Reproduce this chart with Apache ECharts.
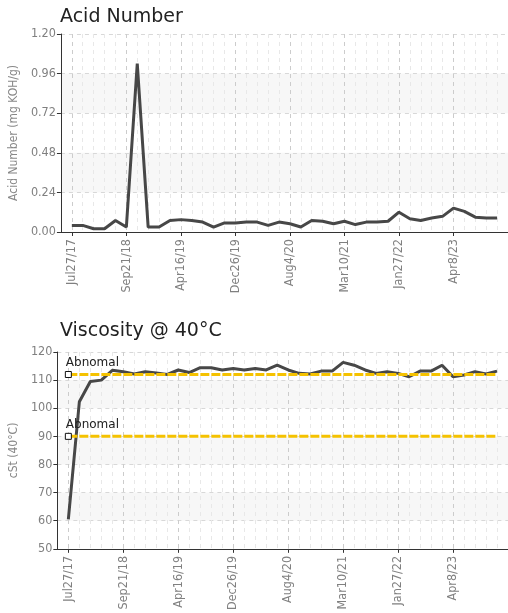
<!DOCTYPE html>
<html>
<head>
<meta charset="utf-8">
<script src="https://cdn.jsdelivr.net/npm/echarts@6/dist/echarts.min.js"></script>
<style>
html,body{margin:0;padding:0;background:#fff;}
#c{width:508px;height:613px;}
</style>
</head>
<body>
<div id="c"></div>
<script>
// Tick labels shown every 5 samples
var tickLabels = ['Jul27/17','Sep21/18','Apr16/19','Dec26/19','Aug4/20','Mar10/21','Jan27/22','Apr8/23'];
// Acid Number (mg KOH/g), 40 samples
var acidNumber = [0.04,0.04,0.02,0.02,0.07,0.03,1.02,0.03,0.03,0.07,
                  0.075,0.07,0.06,0.03,0.055,0.055,0.06,0.06,0.04,0.06,
                  0.05,0.03,0.07,0.065,0.05,0.065,0.045,0.06,0.06,0.065,
                  0.12,0.08,0.07,0.085,0.095,0.145,0.125,0.09,0.085,0.085];
// Viscosity @ 40C (cSt), 40 samples
var viscosity = [60.5,102.3,109.5,110.0,113.5,113.0,112.2,113.0,112.5,112.0,
                 113.6,112.7,114.4,114.4,113.6,114.1,113.6,114.1,113.6,115.3,
                 113.6,112.4,112.2,113.2,113.2,116.3,115.3,113.6,112.4,113.0,
                 112.4,111.2,113.2,113.2,115.3,111.2,111.8,113.0,112.2,113.2];
// Abnormal limits
var viscLimits = [112, 90];
var limitLabel = 'Abnomal';

var nSamples = acidNumber.length;
// category slots: one empty slot before and after the samples
var categories = [];
for (var k = 0; k < nSamples + 2; k++) categories.push('c' + k);

var labelFont = '"Liberation Sans Narrow","DejaVu Sans Condensed","Roboto",sans-serif';
var titleFont = '"DejaVu Sans",Verdana,sans-serif';
function isMajor(idx){ return idx >= 1 && idx <= nSamples && (idx - 1) % 5 === 0; }

function makeX(gi){
  return {
    type:'category', gridIndex:gi, data:categories, boundaryGap:false,
    axisLine:{show:true,lineStyle:{color:'#333',width:1}},
    axisTick:{show:true,length:4,interval:function(i){return isMajor(i);},lineStyle:{color:'#333'}},
    axisLabel:{rotate:90,interval:0,color:'#808080',fontFamily:labelFont,fontSize:12.5,margin:7,
      formatter:function(v,i){ return isMajor(i) ? tickLabels[(i-1)/5] : ''; }},
    splitLine:{show:true,interval:0,lineStyle:{type:[4,4],width:1,
      color:['#e8e8e8','#cccccc','#e8e8e8','#e8e8e8','#e8e8e8']}}
  };
}
function makeY(gi,min,max,interval,name,gap,dec){
  return {
    type:'value', gridIndex:gi, min:min, max:max, interval:interval,
    name:name, nameLocation:'middle', nameGap:gap,
    nameTextStyle:{color:'#888',fontFamily:labelFont,fontSize:12},
    axisLine:{show:true,lineStyle:{color:'#333',width:1}},
    axisTick:{show:true,length:4,lineStyle:{color:'#333'}},
    axisLabel:{color:'#808080',fontFamily:labelFont,fontSize:12.5,margin:5,
      formatter:function(v){ return dec ? v.toFixed(dec) : String(v); }},
    splitLine:{show:true,lineStyle:{type:[4,4],color:'#d8d8d8'}},
    splitArea:{show:true,areaStyle:{color:['rgba(255,255,255,0)','#f7f7f7']}}
  };
}
function pairs(arr){ return arr.map(function(v,i){ return [i+1, v]; }); }
function limitSeries(val){
  var d = [];
  for (var i = 0; i < nSamples; i++) {
    if (i === 0) {
      d.push({value:[1,val], symbol:'rect', symbolSize:6,
        itemStyle:{color:'#fff',borderColor:'#111',borderWidth:1},
        label:{show:true, formatter:limitLabel, position:[1,-14], color:'#222',
               fontFamily:'"DejaVu Sans",sans-serif', fontSize:12}});
    } else d.push([i+1, val]);
  }
  return {type:'line', xAxisIndex:1, yAxisIndex:1, data:d, showSymbol:true, symbol:'none',
    lineStyle:{color:'#f5c200',width:3,type:[9,2]}, silent:true, z:5, animation:false};
}

var chart = echarts.init(document.getElementById('c'), null, {renderer:'canvas'});
chart.setOption({
  animation:false,
  backgroundColor:'#fff',
  title:[
    {text:'Acid Number', left:55, top:3, textStyle:{fontFamily:titleFont,fontSize:19,fontWeight:'normal',color:'#222'}},
    {text:'Viscosity @ 40°C', left:55, top:317, textStyle:{fontFamily:titleFont,fontSize:19,fontWeight:'normal',color:'#222'}}
  ],
  grid:[
    {left:53, top:34, right:0, height:198},
    {left:53, top:352, right:0, height:197}
  ],
  xAxis:[makeX(0), makeX(1)],
  yAxis:[makeY(0,0,1.2,0.24,'Acid Number (mg KOH/g)',36,2), makeY(1,50,120,10,'cSt (40°C)',31,0)],
  series:[
    {type:'line', xAxisIndex:0, yAxisIndex:0, data:pairs(acidNumber), showSymbol:false,
     lineStyle:{color:'#474747',width:3}, z:3},
    {type:'line', xAxisIndex:1, yAxisIndex:1, data:pairs(viscosity), showSymbol:false,
     lineStyle:{color:'#474747',width:3}, z:3},
    limitSeries(viscLimits[0]),
    limitSeries(viscLimits[1])
  ]
});
</script>
</body>
</html>
